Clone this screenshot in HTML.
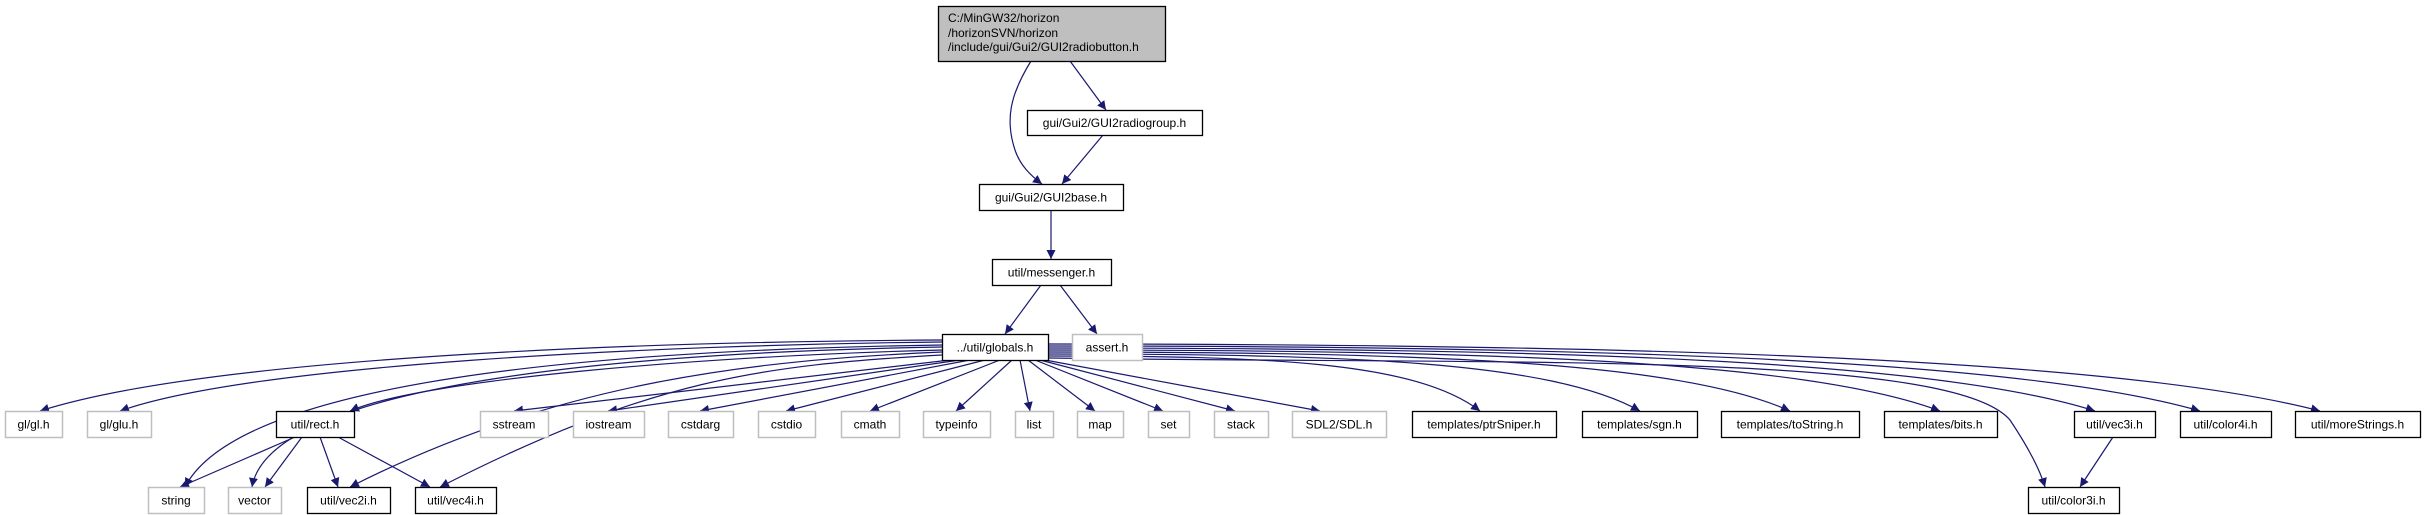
<!DOCTYPE html>
<html><head><meta charset="utf-8">
<style>
html,body{margin:0;padding:0;background:#fff;}
svg{display:block;}
text{font-family:"Liberation Sans",Arial,sans-serif;font-size:12px;fill:#000;}
</style></head>
<body>
<svg id="s" width="2425" height="515" viewBox="0 0 2425 515" xmlns="http://www.w3.org/2000/svg">
<defs>
<marker id="a" viewBox="0 0 10 10" refX="10" refY="5" markerWidth="9" markerHeight="9" markerUnits="userSpaceOnUse" orient="auto">
<path d="M0,0 L10,5 L0,10 z" fill="#191970"/>
</marker>
</defs>
<g id="edges" fill="none" stroke="#191970" stroke-width="1.2"></g>
<g id="nodes"></g>
</svg>
<script>
var NS="http://www.w3.org/2000/svg";
var nodes=[
 [938,1165,6,61,"",2],
 [1027,1202,110,135,"gui/Gui2/GUI2radiogroup.h",1],
 [979,1123,184,210,"gui/Gui2/GUI2base.h",1],
 [992,1111,259,285,"util/messenger.h",1],
 [942,1048,334,360,"../util/globals.h",1],
 [1072,1142,334,360,"assert.h",0],
 [5,62,411,437,"gl/gl.h",0],
 [87,151,411,437,"gl/glu.h",0],
 [276,354,411,437,"util/rect.h",1],
 [480,548,411,437,"sstream",0],
 [573,644,411,437,"iostream",0],
 [668,733,411,437,"cstdarg",0],
 [758,815,411,437,"cstdio",0],
 [841,899,411,437,"cmath",0],
 [923,990,411,437,"typeinfo",0],
 [1015,1053,411,437,"list",0],
 [1077,1123,411,437,"map",0],
 [1148,1189,411,437,"set",0],
 [1214,1268,411,437,"stack",0],
 [1292,1386,411,437,"SDL2/SDL.h",0],
 [1412,1556,411,437,"templates/ptrSniper.h",1],
 [1582,1697,411,437,"templates/sgn.h",1],
 [1721,1859,411,437,"templates/toString.h",1],
 [1884,1997,411,437,"templates/bits.h",1],
 [2074,2155,411,437,"util/vec3i.h",1],
 [2180,2271,411,437,"util/color4i.h",1],
 [2295,2420,411,437,"util/moreStrings.h",1],
 [148,204,487,513,"string",0],
 [228,281,487,513,"vector",0],
 [307,390,487,513,"util/vec2i.h",1],
 [415,496,487,513,"util/vec4i.h",1],
 [2028,2119,487,513,"util/color3i.h",1]
];
var ng=document.getElementById("nodes");
function T(x,y,s,anchor,maxw){
 var t=document.createElementNS(NS,"text");
 t.setAttribute("x",x);t.setAttribute("y",y);
 if(anchor)t.setAttribute("text-anchor",anchor);
 t.textContent=s;ng.appendChild(t);
 if(maxw){var w=t.getComputedTextLength();if(w>maxw){t.setAttribute("textLength",maxw);t.setAttribute("lengthAdjust","spacingAndGlyphs");}}
}
nodes.forEach(function(n){
 var r=document.createElementNS(NS,"rect");
 r.setAttribute("x",n[0]+0.5);r.setAttribute("y",n[2]+0.5);
 r.setAttribute("width",n[1]-n[0]);r.setAttribute("height",n[3]-n[2]);
 r.setAttribute("fill",n[5]==2?"#bfbfbf":"#fff");
 r.setAttribute("stroke",n[5]==0?"#bfbfbf":"#000");
 r.setAttribute("stroke-width",n[5]==0?"1.5":"1.3");
 ng.appendChild(r);
 if(n[4]) T((n[0]+n[1])/2,(n[2]+n[3])/2+4.5,n[4],"middle",(n[1]-n[0])-14);
});
T(948,22,"C:/MinGW32/horizon",null,0);
T(948,37,"/horizonSVN/horizon",null,0);
T(948,51,"/include/gui/Gui2/GUI2radiobutton.h",null,206);
var eg=document.getElementById("edges");
function P(d){var p=document.createElementNS(NS,"path");p.setAttribute("d",d);p.setAttribute("marker-end","url(#a)");eg.appendChild(p);}
P("M1031,61 C1010,95 1005,120 1015,150 C1020,165 1030,175 1042,184");
P("M1070,61 L1106,110");
P("M1103,135 L1062,184");
P("M1051,210 L1051,259");
P("M1041,285 L1005,334");
P("M1060,285 L1097,334");
function C(sx,sy,tx,ty){
 var dx=tx-sx;
 P("M"+sx+","+sy+" C"+(sx+dx*0.5)+","+sy+" "+(tx-dx*0.15)+","+(ty-50)+" "+tx+","+ty);
}
P("M942,340 C600,342 200,360 40,411");
P("M942,342 C650,345 250,365 120,411");
P("M942,345 C600,350 240,380 185,487");
P("M942,347 C650,352 270,380 252,487");
P("M942,350 C700,356 420,380 350,411");
P("M942,352 C760,360 560,380 350,487");
P("M942,355 C760,365 650,380 440,487");
P("M950,360 L514,411");
P("M960,360 L608,411");
P("M970,360 L700,411");
P("M985,360 L786,411");
P("M1000,360 L870,411");
P("M1012,360 L956,411");
P("M1020,360 L1030,411");
P("M1028,360 L1095,411");
P("M1035,360 L1163,411");
P("M1040,360 L1235,411");
P("M1045,360 L1320,411");
C(1048,356,1480,411);
C(1048,354,1640,411);
C(1048,352,1790,411);
C(1048,350,1940,411);
C(1048,348,2095,411);
C(1048,346,2200,411);
C(1048,344,2320,411);
P("M1048,358 C1500,365 1950,350 2010,420 C2030,450 2040,470 2045,487");
P("M295,437 L180,487");
P("M302,437 L265,487");
P("M320,437 L338,487");
P("M338,437 L430,487");
P("M2113,437 L2080,487");
</script>
</body></html>
